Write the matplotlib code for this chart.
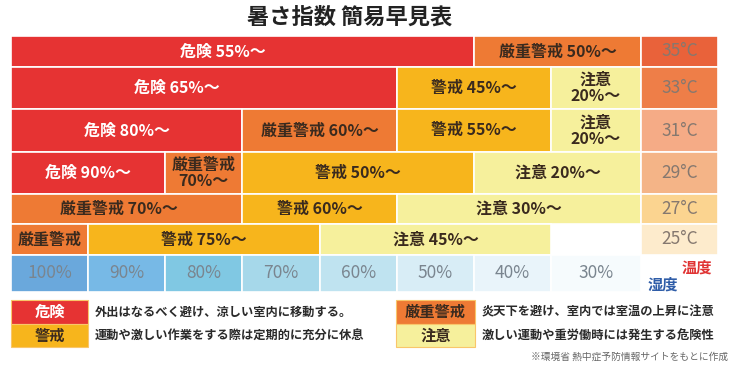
import matplotlib
matplotlib.use("Agg")
import matplotlib.pyplot as plt
from matplotlib.patches import Rectangle

plt.rcParams['font.family'] = ['Noto Sans CJK JP', 'DejaVu Sans']

# --- data ---
humidity = [100, 90, 80, 70, 60, 50, 40, 30]
temps = [35, 33, 31, 29, 27, 25]

# (label, level, from humidity column, to humidity column)
row35 = [("危険 55%～", "危険", 100, 50), ("厳重警戒 50%～", "厳重警戒", 40, 30)]
row33 = [("危険 65%～", "危険", 100, 60), ("警戒 45%～", "警戒", 50, 40),
         ("注意\n20%～", "注意", 30, 30)]
row31 = [("危険 80%～", "危険", 100, 80), ("厳重警戒 60%～", "厳重警戒", 70, 60),
         ("警戒 55%～", "警戒", 50, 40), ("注意\n20%～", "注意", 30, 30)]
row29 = [("危険 90%～", "危険", 100, 90), ("厳重警戒\n70%～", "厳重警戒", 80, 80),
         ("警戒 50%～", "警戒", 70, 50), ("注意 20%～", "注意", 40, 30)]
row27 = [("厳重警戒 70%～", "厳重警戒", 100, 80), ("警戒 60%～", "警戒", 70, 60),
         ("注意 30%～", "注意", 50, 30)]
row25 = [("厳重警戒", "厳重警戒", 100, 100), ("警戒 75%～", "警戒", 90, 70),
         ("注意 45%～", "注意", 60, 40)]
rows = [row35, row33, row31, row29, row27, row25]

levels = ["危険", "警戒", "厳重警戒", "注意"]
level_notes = ["外出はなるべく避け、涼しい室内に移動する。",
               "運動や激しい作業をする際は定期的に充分に休息",
               "炎天下を避け、室内では室温の上昇に注意",
               "激しい運動や重労働時には発生する危険性"]

# --- styles ---
level_colors = {"危険": "#E63333", "厳重警戒": "#EE7A34", "警戒": "#F7B51C", "注意": "#F6F09C"}
level_text = {"危険": "white", "厳重警戒": "#3A2A1E", "警戒": "#3A2A1E", "注意": "#3A2A1E"}
temp_colors = ["#E9623A", "#EE7E48", "#F5AB86", "#F4B487", "#FBD490", "#FDEBCC"]
hum_colors = ["#6AA8DC", "#77B9E6", "#80C8E3", "#A6D8EA", "#BFE3F0", "#D8EDF6", "#E9F4FA", "#F6FBFD"]
col_w = [77, 77, 77, 78, 77, 77, 77, 90]
temp_w = 77
row_h = [31, 42, 43, 42, 30, 31]
hum_h = 37
label_shift = {(0, 0): -20, (1, 0): -27, (4, 0): -8}

col_left = [sum(col_w[:i]) for i in range(len(col_w))]
tab_w = sum(col_w)
row_top = [sum(row_h[:i]) for i in range(len(row_h))]
tab_h = sum(row_h)

W, H = 756, 375
fig = plt.figure(figsize=(W / 100, H / 100), dpi=100)

# background axes in pixel units for title / legend
bg = fig.add_axes([0, 0, 1, 1])
bg.set_xlim(0, W)
bg.set_ylim(H, 0)
bg.axis("off")

ax = fig.add_axes([11 / W, 1 - 292 / H, (tab_w + temp_w) / W, (tab_h + hum_h) / H])
ax.set_xlim(0, tab_w + temp_w)
ax.set_ylim(tab_h + hum_h, 0)
ax.axis("off")

for r, segs in enumerate(rows):
    for k, (label, lvl, h0, h1) in enumerate(segs):
        i0 = humidity.index(h0)
        i1 = humidity.index(h1)
        left = col_left[i0]
        width = col_left[i1] + col_w[i1] - left
        ax.barh(row_top[r], width, left=left, height=row_h[r], align="edge",
                color=level_colors[lvl], edgecolor="white", linewidth=1.2)
        ax.text(left + width / 2 + label_shift.get((r, k), 0), row_top[r] + row_h[r] / 2,
                label, ha="center", va="center", fontsize=11.5, fontweight="bold",
                color=level_text[lvl], linespacing=1.0)
    # temperature column
    ax.barh(row_top[r], temp_w, left=tab_w, height=row_h[r], align="edge",
            color=temp_colors[r], edgecolor="white", linewidth=1.2)
    ax.text(tab_w + temp_w / 2, row_top[r] + row_h[r] / 2, f"{temps[r]}°C",
            ha="center", va="center", fontsize=12.5, color="#85786F")

# humidity row
for i, h in enumerate(humidity):
    ax.barh(tab_h, col_w[i], left=col_left[i], height=hum_h, align="edge",
            color=hum_colors[i], edgecolor="white", linewidth=1.2)
    ax.text(col_left[i] + col_w[i] / 2, tab_h + hum_h / 2, f"{h}%",
            ha="center", va="center", fontsize=12.5, color="#7A858F")

# axis captions
bg.text(712, 268, "温度", ha="right", va="center", fontsize=11, fontweight="bold", color="#E03333")
bg.text(648, 285, "湿度", ha="left", va="center", fontsize=11, fontweight="bold", color="#2F5DA8")

# title
bg.text(350, 17, "暑さ指数 簡易早見表", ha="center", va="center", fontsize=16,
        fontweight="bold", color="#222222")

# legend
box_x = [11, 11, 396, 396]
box_y = [300, 323.5, 300, 323.5]
box_w = [77, 77, 79, 79]
for j, lvl in enumerate(levels):
    bg.add_patch(Rectangle((box_x[j], box_y[j]), box_w[j], 23.5, facecolor=level_colors[lvl],
                           edgecolor="#F9C66A", linewidth=0.8))
    bg.text(box_x[j] + box_w[j] / 2, box_y[j] + 12, lvl, ha="center", va="center",
            fontsize=11, fontweight="bold", color=level_text[lvl])
    bg.text(box_x[j] + box_w[j] + 7, box_y[j] + 12, level_notes[j], ha="left", va="center",
            fontsize=8.8, fontweight="bold", color="#2A2A2A")

bg.text(728, 357, "※環境省 熱中症予防情報サイトをもとに作成", ha="right", va="center",
        fontsize=7, color="#666666")

fig.savefig("out.png", dpi=100)
